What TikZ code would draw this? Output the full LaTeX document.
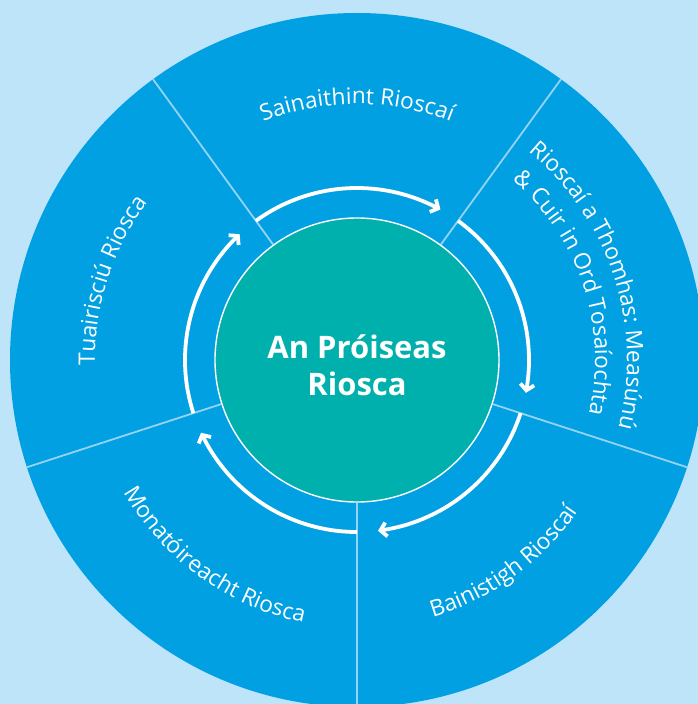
\documentclass[tikz,border=0pt]{standalone}
\usepackage{fontspec}
\newfontfamily\osans{Open Sans}
\usetikzlibrary{arrows.meta,bending,decorations.text}
\definecolor{bgblue}{RGB}{189,228,249}
\definecolor{diskblue}{RGB}{0,160,227}
\definecolor{coreteal}{RGB}{0,176,172}
\definecolor{divblue}{RGB}{150,211,242}
\tikzset{
  divider/.style={draw=divblue, line width=1.8pt},
  flowarc/.style={draw=white, line width=3.8pt, -{Straight Barb[length=6pt,width=14pt,bend]}},
  arctext/.style={decorate, decoration={text along path, text align=center, text color=white,
      text={|\osans\fontsize{22.7}{27}\selectfont|#1}}},
}
\begin{document}
\begin{tikzpicture}[x=1pt,y=1pt]
  \useasboundingbox (-357pt,-344pt) rectangle (341pt,360pt);
  \fill[bgblue] (-357pt,-344pt) rectangle (341pt,360pt);
  \clip (-357pt,-344pt) rectangle (341pt,360pt);
  \fill[diskblue] (0,0) circle[radius=347pt];
  \node[circle, fill=coreteal, draw=white, line width=1.4pt, minimum size=284pt, inner sep=0pt] (core) at (0,0) {};
  \foreach \a in {126,54,-18,-90,198} {
    \draw[divider] (core.\a) -- (\a:347pt);
  }
  \node[text=white, align=center, font=\osans\bfseries\fontsize{31}{37}\selectfont] (title) at ([yshift=-5pt]core.center) {An Próiseas\\Riosca};
  % cycle arrows
  \draw[flowarc] (126:172pt) arc[start angle=126, end angle=61, radius=172pt];
  \draw[flowarc] (54:172pt) arc[start angle=54, end angle=-11, radius=172pt];
  \draw[flowarc] (-18:172pt) arc[start angle=-18, end angle=-83, radius=172pt];
  \draw[flowarc] (-90:172pt) arc[start angle=-90, end angle=-155, radius=172pt];
  \draw[flowarc] (198:172pt) arc[start angle=198, end angle=133, radius=172pt];
  % sector labels
  \path[arctext={Sainaithint Rioscaí}] (126:256pt) arc[start angle=126, end angle=54, radius=256pt];
  \path[arctext={Rioscaí a Thomhas: Measúnú}] (60:270pt) arc[start angle=60, end angle=-24, radius=270pt];
  \path[arctext={{\&} Cuir in Ord Tosaíochta}] (60:238pt) arc[start angle=60, end angle=-24, radius=238pt];
  \path[arctext={Tuairisciú Riosca}] (198:262pt) arc[start angle=198, end angle=126, radius=262pt];
  \path[arctext={Monatóireacht Riosca}] (198:268pt) arc[start angle=198, end angle=270, radius=268pt];
  \path[arctext={Bainistigh Rioscaí}] (270:268pt) arc[start angle=270, end angle=342, radius=268pt];
\end{tikzpicture}
\end{document}
